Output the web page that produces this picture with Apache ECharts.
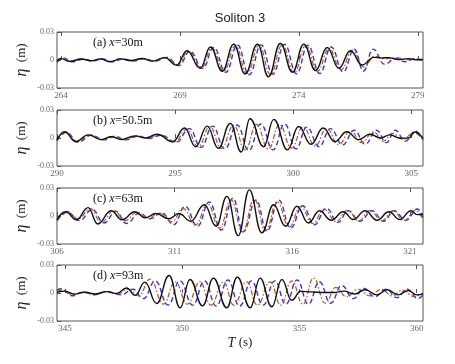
<!DOCTYPE html>
<html><head><meta charset="utf-8">
<script src="https://cdn.jsdelivr.net/npm/echarts@6/dist/echarts.min.js"></script>
<style>html,body{margin:0;padding:0;background:#fff}#c{width:455px;height:364px}</style>
</head><body><div id="c"></div>
<script>
// ---------- data ----------
const titleText = 'Soliton 3';
const panelLabels = [['(a) ','x','=30m'],['(b) ','x','=50.5m'],['(c) ','x','=63m'],['(d) ','x','=93m']];
const xRanges = [[263.83,279.22],[290,305.5],[306,321.55],[344.66,360.27]];
const ticksA = [264,269,274,279];
const ticksB = [290,295,300,305];
const ticksC = [306,311,316,321];
const ticksD = [345,350,355,360];
const yTicks = [-0.03,0,0.03];

const measA = [[263.83,-0.001],[264.0,0.0015],[264.35,-0.0015],[264.85,0.001],[265.25,-0.0008],[265.65,0.0012],[266.05,-0.0018],[266.5,0.0012],[266.95,-0.0006],[267.4,0.0016],[267.85,-0.0012],[268.35,0.0025],[268.85,-0.0055],[269.30,0.0099],[269.85,-0.0088],[270.28,0.014],[270.78,-0.012],[271.26,0.017],[271.74,-0.015],[272.26,0.017],[272.72,-0.018],[273.22,0.0177],[273.73,-0.013],[274.21,0.017],[274.70,-0.0113],[275.19,0.0134],[275.68,-0.0088],[276.17,0.0099],[276.66,-0.0053],[277.15,0.0028],[277.5,0.0022],[277.75,0.0025],[278.2,0.0005],[278.6,0.0015],[279.0,0.0002],[279.22,0.0005]];
const redA = [[263.83,0.0],[264.05,0.002],[264.4,-0.0015],[264.9,0.001],[265.3,-0.0008],[265.7,0.001],[266.1,-0.0016],[266.55,0.0012],[267.0,-0.0008],[267.45,0.0015],[267.9,-0.001],[268.4,0.0025],[268.9,-0.005],[269.36,0.009],[269.9,-0.0085],[270.34,0.0128],[270.85,-0.0118],[271.33,0.0155],[271.82,-0.0145],[272.33,0.016],[272.8,-0.0155],[273.3,0.016],[273.8,-0.0135],[274.29,0.0155],[274.78,-0.012],[275.27,0.0125],[275.77,-0.0105],[276.25,0.0105],[276.74,-0.0075],[277.18,0.004],[277.6,0.0015],[278.1,0.0025],[278.55,0.0005],[279.0,0.0012],[279.22,0.0003]];
const blueA = [[263.83,-0.0025],[264.1,0.0022],[264.45,-0.002],[264.95,0.0008],[265.35,-0.001],[265.75,0.0012],[266.15,-0.0018],[266.6,0.001],[267.05,-0.0012],[267.5,0.0015],[267.95,-0.0012],[268.45,0.0028],[268.95,-0.006],[269.42,0.0095],[269.96,-0.009],[270.42,0.0135],[270.93,-0.0132],[271.42,0.016],[271.91,-0.0158],[272.42,0.0162],[272.9,-0.0152],[273.4,0.0168],[273.9,-0.0148],[274.38,0.0158],[274.88,-0.0145],[275.36,0.014],[275.86,-0.0128],[276.33,0.0115],[276.72,-0.0118],[277.12,0.0117],[277.6,-0.0045],[278.05,0.0015],[278.45,-0.0018],[278.85,0.001],[279.22,-0.0005]];

const measB = [[290.0,-0.002],[290.32,0.0067],[290.79,-0.004],[291.32,0.0033],[291.87,-0.0017],[292.3,0.0013],[292.73,-0.0017],[293.3,0.0023],[293.74,0.0],[294.24,0.004],[294.9,-0.004],[295.4,0.0107],[295.87,-0.0093],[296.36,0.0127],[296.83,-0.011],[297.34,0.0157],[297.8,-0.015],[298.17,0.0207],[298.75,-0.0093],[299.18,0.02],[299.76,-0.0127],[300.23,0.0123],[300.76,-0.0067],[301.27,0.0107],[301.77,-0.004],[302.27,0.0067],[302.77,-0.0017],[303.25,0.004],[303.7,0.0],[304.1,0.0033],[304.55,-0.0003],[304.9,0.0],[305.15,0.0065],[305.5,-0.0005]];
const redB = [[290.0,-0.0025],[290.36,0.0062],[290.85,-0.004],[291.38,0.003],[291.93,-0.0018],[292.38,0.0015],[292.82,-0.0018],[293.38,0.002],[293.82,-0.0003],[294.32,0.0035],[294.98,-0.0042],[295.5,0.0095],[295.98,-0.0095],[296.47,0.012],[296.96,-0.0112],[297.48,0.0135],[297.97,-0.0128],[298.45,0.0145],[298.95,-0.012],[299.42,0.0145],[299.93,-0.0108],[300.42,0.012],[300.93,-0.0085],[301.42,0.01],[301.93,-0.0068],[302.43,0.0078],[302.9,-0.005],[303.4,0.0065],[303.83,-0.0035],[304.2,0.005],[304.65,-0.0015],[305.1,0.0055],[305.5,-0.0015]];
const blueB = [[290.0,-0.003],[290.4,0.006],[290.9,-0.0045],[291.45,0.003],[292.0,-0.002],[292.45,0.002],[292.9,-0.002],[293.45,0.002],[293.9,-0.0005],[294.4,0.003],[295.05,-0.0045],[295.61,0.01],[296.1,-0.01],[296.59,0.0127],[297.1,-0.0117],[297.63,0.014],[298.12,-0.0133],[298.63,0.015],[299.15,-0.0127],[299.64,0.015],[300.12,-0.0117],[300.58,0.0117],[301.1,-0.0093],[301.58,0.01],[302.1,-0.0073],[302.59,0.0083],[303.05,-0.0067],[303.53,0.0083],[303.95,-0.005],[304.32,0.0083],[304.75,-0.0033],[305.18,0.0073],[305.5,-0.002]];

const measC = [[306.0,-0.004],[306.36,0.0045],[306.83,-0.004],[307.32,0.009],[307.73,-0.0086],[308.3,0.0056],[308.76,-0.004],[309.31,0.0045],[309.74,-0.002],[310.2,0.0026],[310.75,-0.003],[311.18,0.0026],[311.68,-0.0056],[312.26,0.012],[312.76,-0.011],[313.22,0.021],[313.7,-0.021],[314.17,0.028],[314.7,-0.018],[315.2,0.012],[315.71,-0.011],[316.19,0.0105],[316.68,-0.0075],[317.15,0.0056],[317.65,-0.0045],[318.16,0.0045],[318.59,-0.0038],[319.09,0.0056],[319.6,-0.0045],[320.1,0.0045],[320.56,-0.0038],[321.04,0.0056],[321.3,0.0015],[321.55,0.0019]];
const redC = [[306.0,-0.003],[306.42,0.005],[306.9,-0.003],[307.42,0.008],[307.88,-0.007],[308.42,0.006],[308.88,-0.005],[309.42,0.004],[309.88,-0.002],[310.35,0.003],[310.88,-0.006],[311.36,0.008],[311.88,-0.0095],[312.4,0.013],[312.9,-0.013],[313.4,0.017],[313.88,-0.017],[314.38,0.018],[314.86,-0.016],[315.35,0.015],[315.86,-0.012],[316.35,0.01],[316.86,-0.008],[317.35,0.007],[317.85,-0.006],[318.33,0.006],[318.82,-0.005],[319.3,0.006],[319.8,-0.005],[320.27,0.0055],[320.75,-0.005],[321.22,0.006],[321.55,-0.004]];
const blueC = [[306.0,-0.005],[306.45,0.004],[306.95,-0.005],[307.5,0.007],[308.0,-0.0075],[308.5,0.005],[308.95,-0.008],[309.5,0.003],[309.95,-0.003],[310.45,0.0035],[310.96,-0.0094],[311.44,0.0105],[311.97,-0.011],[312.47,0.015],[312.98,-0.015],[313.48,0.019],[313.91,-0.017],[314.46,0.017],[314.92,-0.016],[315.42,0.017],[315.93,-0.013],[316.43,0.011],[316.94,-0.0094],[317.44,0.0083],[317.94,-0.0068],[318.37,0.0056],[318.88,-0.0056],[319.38,0.0056],[319.88,-0.0056],[320.32,0.0056],[320.82,-0.0045],[321.32,0.0075],[321.55,-0.002]];

const measD = [[344.66,0.0008],[345.0,0.002],[345.4,-0.0012],[345.85,0.0008],[346.3,-0.001],[346.8,0.0015],[347.2,-0.0005],[347.63,0.0053],[347.99,-0.0025],[348.41,0.0116],[348.91,-0.0113],[349.44,0.0187],[349.91,-0.0159],[350.33,0.0145],[350.87,-0.0138],[351.33,0.0159],[351.9,-0.0159],[352.35,0.017],[352.9,-0.0159],[353.32,0.0159],[353.82,-0.0148],[354.25,0.0145],[354.67,-0.0078],[355.05,0.0018],[355.5,0.0012],[356.0,0.0005],[356.45,0.0005],[356.9,0.002],[357.35,-0.001],[357.8,0.0035],[358.3,-0.002],[358.75,0.0035],[359.2,-0.002],[359.65,0.0025],[360.0,-0.002],[360.27,-0.001]];
const redD = [[344.66,0.002],[344.9,0.003],[345.3,-0.0015],[345.8,0.001],[346.25,-0.0015],[346.75,0.0015],[347.25,-0.001],[347.7,0.004],[348.15,-0.003],[348.63,0.015],[349.2,-0.012],[349.7,0.012],[350.22,-0.012],[350.76,0.012],[351.22,-0.013],[351.76,0.012],[352.2,-0.013],[352.75,0.012],[353.2,-0.013],[353.75,0.012],[354.2,-0.013],[354.67,0.013],[355.15,-0.012],[355.6,0.016],[356.1,-0.011],[356.55,0.006],[357.0,-0.004],[357.5,0.004],[358.0,-0.003],[358.5,0.004],[358.95,-0.003],[359.4,0.003],[359.9,-0.004],[360.27,0.0]];
const blueD = [[344.66,0.003],[344.85,0.0045],[345.3,-0.003],[345.8,0.001],[346.25,-0.002],[346.75,0.0015],[347.4,-0.002],[347.9,0.004],[348.35,-0.006],[348.85,0.013],[349.4,-0.013],[349.9,0.013],[350.45,-0.013],[350.95,0.013],[351.45,-0.014],[351.95,0.014],[352.45,-0.014],[352.95,0.013],[353.45,-0.013],[353.95,0.013],[354.42,-0.012],[354.9,0.014],[355.38,-0.012],[355.85,0.012],[356.33,-0.011],[356.8,0.008],[357.3,-0.006],[357.75,0.005],[358.2,-0.004],[358.7,0.004],[359.15,-0.005],[359.6,0.004],[360.05,-0.006],[360.27,-0.002]];

// ---------- layout ----------
const panels = [
  {ticks: ticksA, meas: measA, red: redA, blue: blueA},
  {ticks: ticksB, meas: measB, red: redB, blue: blueB},
  {ticks: ticksC, meas: measC, red: redC, blue: blueC},
  {ticks: ticksD, meas: measD, red: redD, blue: blueD}
];
const gridTops = [32, 110, 188, 265];
const gridLeft = 57, gridW = 366, gridH = 56;
const serif = 'Liberation Serif';
const tickColor = '#666';

const grid = [], xAxis = [], yAxis = [], series = [], graphic = [];
panels.forEach((p, i) => {
  grid.push({left: gridLeft, top: gridTops[i], width: gridW, height: gridH, show: true,
    borderColor: '#555', borderWidth: 1, backgroundColor: 'transparent'});
  const [mn, mx] = xRanges[i];
  xAxis.push({gridIndex: i, type: 'value', min: mn, max: mx, position: 'bottom',
    axisLine: {show: false}, splitLine: {show: false},
    axisTick: {inside: true, length: 4, customValues: p.ticks, lineStyle: {color: '#555'}},
    axisLabel: {customValues: p.ticks, color: tickColor, fontFamily: serif, fontSize: 9, margin: 3}});
  xAxis.push({gridIndex: i, type: 'value', min: mn, max: mx, position: 'top',
    axisLine: {show: false}, splitLine: {show: false},
    axisTick: {inside: true, length: 4, customValues: p.ticks, lineStyle: {color: '#555'}},
    axisLabel: {show: false}});
  yAxis.push({gridIndex: i, type: 'value', min: -0.03, max: 0.03, interval: 0.03,
    axisLine: {show: false}, splitLine: {show: false},
    axisTick: {inside: true, length: 4, lineStyle: {color: '#555'}},
    axisLabel: {color: tickColor, fontFamily: serif, fontSize: 8, margin: 3,
      formatter: v => Math.abs(v) < 1e-9 ? '0' : v.toFixed(2)}});
  const base = {type: 'line', xAxisIndex: i * 2, yAxisIndex: i, showSymbol: false, symbol: 'none',
    smooth: 0.45, smoothMonotone: 'x', animation: false, silent: true};
  series.push(Object.assign({}, base, {name: 'blue' + i, data: p.blue,
    lineStyle: {color: '#3a36cc', width: 1.4, type: [5, 3]}}));
  series.push(Object.assign({}, base, {name: 'red' + i, data: p.red,
    lineStyle: {color: '#b0582c', width: 1.2, type: [5, 2, 1.5, 2]}}));
  series.push(Object.assign({}, base, {name: 'meas' + i, data: p.meas,
    lineStyle: {color: '#111', width: 1.4}}));
  const lab = panelLabels[i];
  graphic.push({type: 'text', left: 93, top: gridTops[i] + 5, z: 100,
    style: {text: lab[0] + '{i|' + lab[1] + '}' + lab[2], fill: '#111', font: '12px "Liberation Serif"',
      rich: {i: {fontStyle: 'italic', fontFamily: serif, fontSize: 12, fill: '#111'}}}});
  graphic.push({type: 'text', x: 22, y: gridTops[i] + gridH / 2, rotation: Math.PI / 2, z: 100,
    style: {text: '{i|η}  (m)', align: 'center', verticalAlign: 'middle', fill: '#222',
      font: '13px "Liberation Serif"',
      rich: {i: {fontStyle: 'italic', fontFamily: serif, fontSize: 16, fill: '#222'}}}});
});
graphic.push({type: 'text', x: 240, y: 18, z: 100,
  style: {text: titleText, align: 'center', verticalAlign: 'middle', fill: '#222', font: '13px "Liberation Sans"'}});
graphic.push({type: 'text', x: 240, y: 343, z: 100,
  style: {text: '{i|T} (s)', align: 'center', verticalAlign: 'middle', fill: '#222', font: '13px "Liberation Serif"',
    rich: {i: {fontStyle: 'italic', fontFamily: serif, fontSize: 14, fill: '#222'}}}});

const chart = echarts.init(document.getElementById('c'), null, {renderer: 'canvas'});
chart.setOption({animation: false, grid, xAxis, yAxis, series, graphic});
</script></body></html>
